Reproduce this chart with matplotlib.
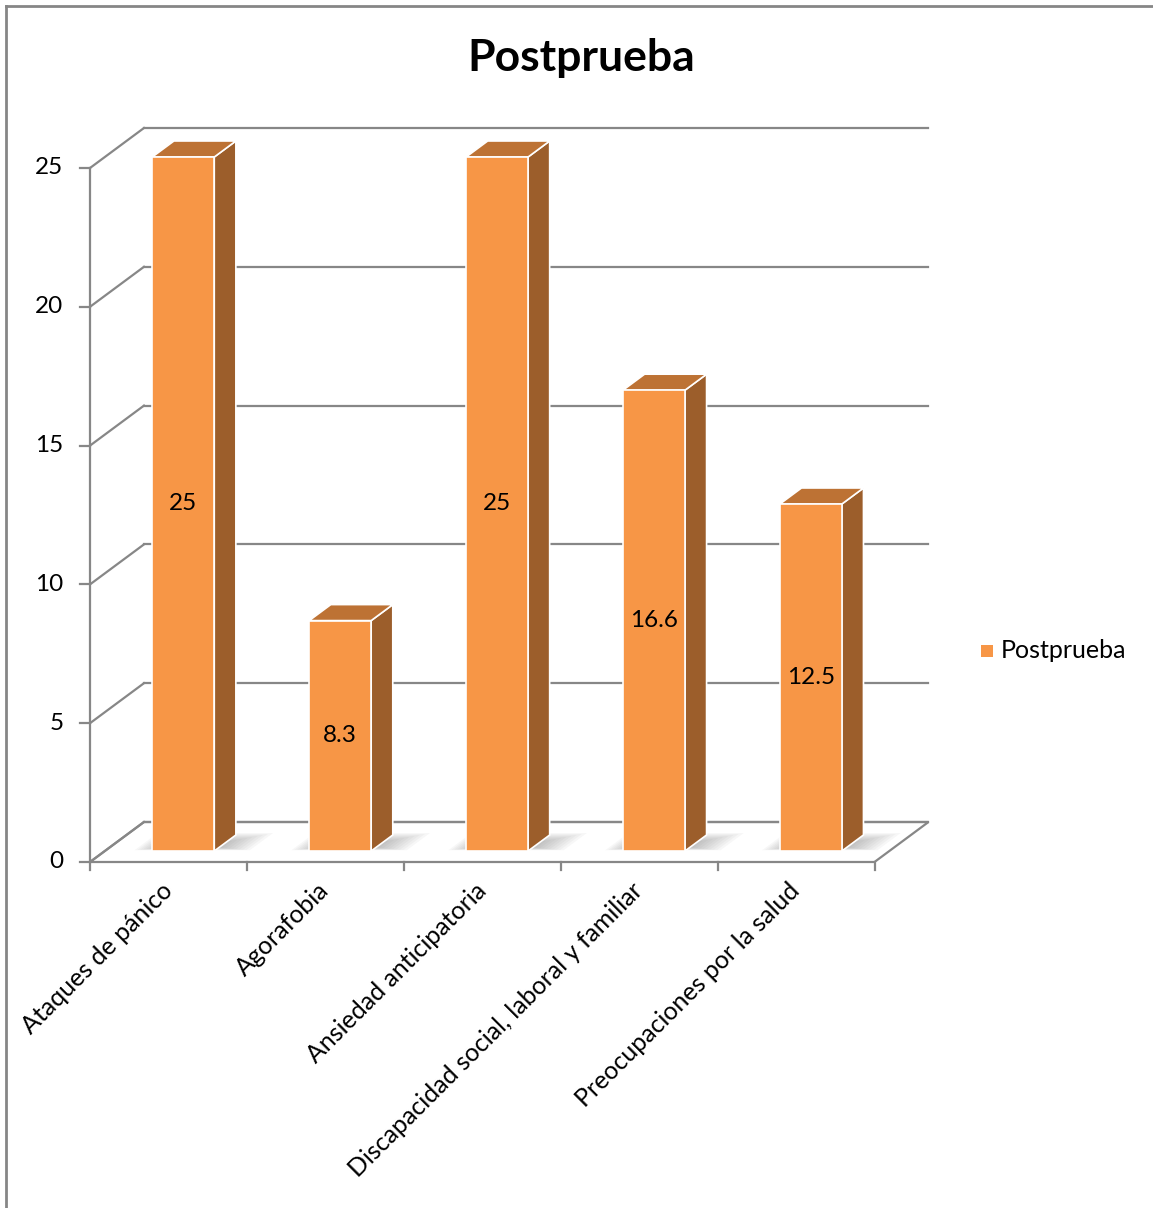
import numpy as np
import matplotlib.pyplot as plt
from matplotlib.patches import Polygon
from matplotlib.lines import Line2D

plt.rcParams['font.family'] = ['Lato', 'DejaVu Sans']

categories = ['Ataques de pánico', 'Agorafobia', 'Ansiedad anticipatoria',
              'Discapacidad social, laboral y familiar', 'Preocupaciones por la salud']
values = [25, 8.3, 25, 16.6, 12.5]
value_labels = ['25', '8.3', '25', '16.6', '12.5']
yticks = [0, 5, 10, 15, 20, 25]
series_name = 'Postprueba'

FRONT = '#F79646'
TOP = '#BD7234'
SIDE = '#9C5E2B'
GRID = '#878787'
FS = 17.5

# oblique projection: depth 0..1 shifts right and up
DX, DY = 0.344, 1.441
def proj(x, y, d):
    return (x + d * DX, y + d * DY)

fig = plt.figure(figsize=(11.53, 12.08), dpi=100)
ax = fig.add_axes([0, 0, 1, 1])
ax.set_xlim(-90 / 156.9, (1153 - 90) / 156.9)
ax.set_ylim(-(1208 - 862) / 27.76, 862 / 27.76)
ax.axis('off')

n = len(categories)
ymax = yticks[-1]
lw = 1.6

# floor
floor = [proj(0, 0, 0), proj(n, 0, 0), proj(n, 0, 1), proj(0, 0, 1)]
ax.add_patch(Polygon(floor, closed=True, facecolor='white', edgecolor=GRID, lw=lw, zorder=1))

# back wall gridlines and left wall diagonals
for t in yticks:
    x0, y0 = proj(0, t, 1)
    x1, y1 = proj(n, t, 1)
    ax.plot([x0, x1], [y0, y1], color=GRID, lw=lw, zorder=1)
    ax.plot([0, x0], [t, y0], color=GRID, lw=lw, zorder=1)
    ax.plot([-0.064, 0], [t, t], color=GRID, lw=lw, zorder=1)
    ax.text(-0.17, t, str(t), ha='right', va='center', fontsize=FS, color='black')
ax.plot([0, 0], [0, ymax], color=GRID, lw=lw, zorder=1)
for i in range(n + 1):
    ax.plot([i, i], [0, -0.29], color=GRID, lw=lw, zorder=1)

# bars
w = 0.395
d0, d1 = 0.275, 0.675
for i, v in enumerate(values):
    xl = i + 0.5 - w / 2
    xr = i + 0.5 + w / 2
    # soft shadow on the floor, built from stacked translucent layers
    for k in range(10):
        s = 0.016 * k
        sd = 0.025 * k
        shadow = [proj(xl - 0.12 + s, 0, d0 + 0.02 + sd * 0.3), proj(xr + 0.22 - 1.5 * s, 0, d0 + 0.02 + sd * 0.3),
                  proj(xr + 0.22 - 1.5 * s, 0, d1 + 0.05 - sd), proj(xl - 0.12 + s, 0, d1 + 0.05 - sd)]
        ax.add_patch(Polygon(shadow, closed=True, facecolor='#666666', edgecolor='none',
                             alpha=0.05, zorder=2))
    front = [proj(xl, 0, d0), proj(xr, 0, d0), proj(xr, v, d0), proj(xl, v, d0)]
    side = [proj(xr, 0, d0), proj(xr, 0, d1), proj(xr, v, d1), proj(xr, v, d0)]
    top = [proj(xl, v, d0), proj(xr, v, d0), proj(xr, v, d1), proj(xl, v, d1)]
    ax.add_patch(Polygon(side, closed=True, facecolor=SIDE, edgecolor='white', lw=1.2, zorder=3))
    ax.add_patch(Polygon(top, closed=True, facecolor=TOP, edgecolor='white', lw=1.2, zorder=3))
    ax.add_patch(Polygon(front, closed=True, facecolor=FRONT, edgecolor='white', lw=1.2, zorder=4))
    cx, cy = proj(i + 0.5, v / 2, d0)
    ax.text(cx, cy, value_labels[i], ha='center', va='center', fontsize=FS, color='black', zorder=5)

# category labels
for i, c in enumerate(categories):
    ax.text(i + 0.5, -0.9, c, rotation=45, rotation_mode='anchor', ha='right', va='center',
            fontsize=18, color='black')

# title
fig.text(581 / 1153, 1 - 58 / 1208, series_name, ha='center', va='center',
         fontsize=32, fontweight='bold', color='black')

# legend
fig.patches.append(plt.Rectangle((981 / 1153, 1 - 657 / 1208), 12 / 1153, 12 / 1208,
                                 transform=fig.transFigure, facecolor=FRONT, edgecolor='none'))
fig.text(1001 / 1153, 1 - 650 / 1208, series_name, ha='left', va='center', fontsize=18, color='black')

# chart border (top and left edges)
fig.add_artist(Line2D([6 / 1153, 1], [1 - 6 / 1208, 1 - 6 / 1208], transform=fig.transFigure,
                      color='#868686', lw=2))
fig.add_artist(Line2D([6 / 1153, 6 / 1153], [0, 1 - 6 / 1208], transform=fig.transFigure,
                      color='#868686', lw=2))

fig.savefig('out.png', dpi=100)
